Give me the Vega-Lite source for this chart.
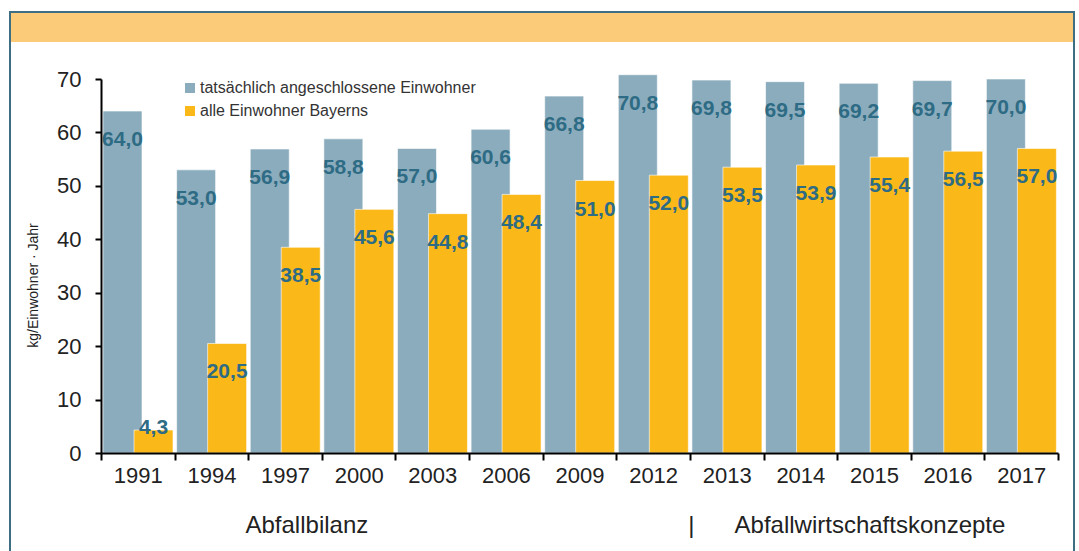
{
  "$schema": "https://vega.github.io/schema/vega-lite/v6.json",
  "width": 1064,
  "height": 545,
  "autosize": {"type": "none"},
  "padding": {"left": 10, "top": 12, "right": 5, "bottom": 0},
  "background": "white",
  "config": {
    "font": "Liberation Sans",
    "locale": {"number": {"decimal": ",", "thousands": ".", "grouping": [3], "currency": ["", " €"]}},
    "view": {"stroke": "#3E6E84", "strokeWidth": 2, "fill": "white"}
  },
  "data": {
    "values": [
      {"year": "1991", "series": "tatsächlich angeschlossene Einwohner", "v": 64.0},
      {"year": "1994", "series": "tatsächlich angeschlossene Einwohner", "v": 53.0},
      {"year": "1997", "series": "tatsächlich angeschlossene Einwohner", "v": 56.9},
      {"year": "2000", "series": "tatsächlich angeschlossene Einwohner", "v": 58.8},
      {"year": "2003", "series": "tatsächlich angeschlossene Einwohner", "v": 57.0},
      {"year": "2006", "series": "tatsächlich angeschlossene Einwohner", "v": 60.6},
      {"year": "2009", "series": "tatsächlich angeschlossene Einwohner", "v": 66.8},
      {"year": "2012", "series": "tatsächlich angeschlossene Einwohner", "v": 70.8},
      {"year": "2013", "series": "tatsächlich angeschlossene Einwohner", "v": 69.8},
      {"year": "2014", "series": "tatsächlich angeschlossene Einwohner", "v": 69.5},
      {"year": "2015", "series": "tatsächlich angeschlossene Einwohner", "v": 69.2},
      {"year": "2016", "series": "tatsächlich angeschlossene Einwohner", "v": 69.7},
      {"year": "2017", "series": "tatsächlich angeschlossene Einwohner", "v": 70.0},
      {"year": "1991", "series": "alle Einwohner Bayerns", "v": 4.3},
      {"year": "1994", "series": "alle Einwohner Bayerns", "v": 20.5},
      {"year": "1997", "series": "alle Einwohner Bayerns", "v": 38.5},
      {"year": "2000", "series": "alle Einwohner Bayerns", "v": 45.6},
      {"year": "2003", "series": "alle Einwohner Bayerns", "v": 44.8},
      {"year": "2006", "series": "alle Einwohner Bayerns", "v": 48.4},
      {"year": "2009", "series": "alle Einwohner Bayerns", "v": 51.0},
      {"year": "2012", "series": "alle Einwohner Bayerns", "v": 52.0},
      {"year": "2013", "series": "alle Einwohner Bayerns", "v": 53.5},
      {"year": "2014", "series": "alle Einwohner Bayerns", "v": 53.9},
      {"year": "2015", "series": "alle Einwohner Bayerns", "v": 55.4},
      {"year": "2016", "series": "alle Einwohner Bayerns", "v": 56.5},
      {"year": "2017", "series": "alle Einwohner Bayerns", "v": 57.0}
    ]
  },
  "resolve": {"scale": {"x": "independent"}, "axis": {"x": "independent"}},
  "layer": [
    {
      "data": {"values": [{"band": "header"}]},
      "mark": {"type": "rect", "fill": "#FCCB7A"},
      "encoding": {
        "x": {"datum": 0, "type": "quantitative", "scale": {"domain": [0, 1], "range": [1, 1063]}, "axis": null},
        "x2": {"datum": 1},
        "y": {"datum": 82.35, "type": "quantitative", "scale": {"domain": [0, 70], "range": [441, 67], "nice": false, "zero": true}},
        "y2": {"datum": 76.92}
      }
    },
    {
      "layer": [
        {
          "transform": [{"filter": "datum.series === 'tatsächlich angeschlossene Einwohner'"}],
          "mark": {"type": "bar", "width": 39, "xOffset": -15.3, "stroke": "white", "strokeWidth": 1, "strokeOpacity": 0.6},
          "encoding": {
            "x": {"field": "year", "type": "nominal"},
            "y": {"field": "v", "type": "quantitative"},
            "color": {
              "field": "series", "type": "nominal",
              "scale": {"domain": ["tatsächlich angeschlossene Einwohner", "alle Einwohner Bayerns"], "range": ["#8BACBD", "#FBB919"]},
              "legend": {
                "orient": "none",
                "legendX": 172,
                "legendY": 68,
                "title": null,
                "symbolType": "square",
                "symbolSize": 100,
                "symbolStrokeWidth": 0,
                "labelFontSize": 16,
                "labelColor": "#333333",
                "labelOffset": 2,
                "labelLimit": 500,
                "rowPadding": 7
              }
            }
          }
        },
        {
          "transform": [{"filter": "datum.series === 'alle Einwohner Bayerns'"}],
          "mark": {"type": "bar", "width": 39, "xOffset": 15.7, "stroke": "white", "strokeWidth": 1, "strokeOpacity": 0.6},
          "encoding": {
            "x": {"field": "year", "type": "nominal"},
            "y": {"field": "v", "type": "quantitative"},
            "color": {"field": "series", "type": "nominal"}
          }
        },
        {
          "transform": [{"filter": "datum.series === 'tatsächlich angeschlossene Einwohner'"}],
          "mark": {"type": "text", "xOffset": -15.3, "dy": 29, "baseline": "middle", "align": "center", "font": "Liberation Sans", "fontWeight": "bold", "fontSize": 21, "fill": "#2E6B84"},
          "encoding": {
            "x": {"field": "year", "type": "nominal"},
            "y": {"field": "v", "type": "quantitative"},
            "text": {"field": "v", "type": "quantitative", "format": ".1f"}
          }
        },
        {
          "transform": [{"filter": "datum.series === 'alle Einwohner Bayerns' && datum.v >= 10"}],
          "mark": {"type": "text", "xOffset": 15.7, "dy": 29, "baseline": "middle", "align": "center", "font": "Liberation Sans", "fontWeight": "bold", "fontSize": 21, "fill": "#2E6B84"},
          "encoding": {
            "x": {"field": "year", "type": "nominal"},
            "y": {"field": "v", "type": "quantitative"},
            "text": {"field": "v", "type": "quantitative", "format": ".1f"}
          }
        },
        {
          "transform": [{"filter": "datum.series === 'alle Einwohner Bayerns' && datum.v < 10"}],
          "mark": {"type": "text", "xOffset": 15.7, "dy": -2, "baseline": "middle", "align": "center", "font": "Liberation Sans", "fontWeight": "bold", "fontSize": 21, "fill": "#2E6B84"},
          "encoding": {
            "x": {"field": "year", "type": "nominal"},
            "y": {"field": "v", "type": "quantitative"},
            "text": {"field": "v", "type": "quantitative", "format": ".1f"}
          }
        }
      ],
      "encoding": {
        "x": {
          "field": "year", "type": "nominal",
          "scale": {"type": "band", "range": [91, 1048], "paddingInner": 0, "paddingOuter": 0},
          "axis": {
            "offset": -104,
            "zindex": 1,
            "labelAngle": 0,
            "labelFontSize": 22,
            "labelColor": "#222222",
            "labelPadding": 5,
            "domainColor": "#000000",
            "domainWidth": 2,
            "tickColor": "#000000",
            "tickWidth": 2,
            "tickSize": 7,
            "tickBand": "extent",
            "grid": false,
            "title": "Abfallbilanz\u00a0\u00a0\u00a0\u00a0\u00a0\u00a0\u00a0\u00a0\u00a0\u00a0\u00a0\u00a0\u00a0\u00a0\u00a0\u00a0\u00a0\u00a0\u00a0\u00a0\u00a0\u00a0\u00a0\u00a0\u00a0\u00a0\u00a0\u00a0\u00a0\u00a0\u00a0\u00a0\u00a0\u00a0\u00a0\u00a0\u00a0\u00a0\u00a0\u00a0\u00a0\u00a0\u00a0\u00a0\u00a0\u00a0\u00a0\u00a0|\u00a0\u00a0\u00a0\u00a0\u00a0\u00a0Abfallwirtschaftskonzepte",
            "titleFontSize": 24,
            "titleFontWeight": "normal",
            "titleColor": "#222222",
            "titleAnchor": "start",
            "titleAlign": "left",
            "titleX": 235,
            "titleY": 72,
            "titleBaseline": "middle"
          }
        },
        "y": {
          "field": "v", "type": "quantitative",
          "scale": {"domain": [0, 70], "range": [441, 67], "nice": false, "zero": true},
          "axis": {
            "offset": -91,
            "zindex": 1,
            "values": [0, 10, 20, 30, 40, 50, 60, 70],
            "format": "d",
            "labelFontSize": 22,
            "labelColor": "#222222",
            "labelPadding": 14,
            "domainColor": "#000000",
            "domainWidth": 2,
            "tickColor": "#000000",
            "tickWidth": 2,
            "tickSize": 6,
            "grid": false,
            "title": "kg/Einwohner · Jahr",
            "titleFontSize": 14,
            "titleFontWeight": "normal",
            "titleColor": "#222222",
            "titleAngle": -90,
            "titleX": -68,
            "titleY": 273,
            "titleAlign": "center",
            "titleBaseline": "middle"
          }
        }
      }
    }
  ]
}
